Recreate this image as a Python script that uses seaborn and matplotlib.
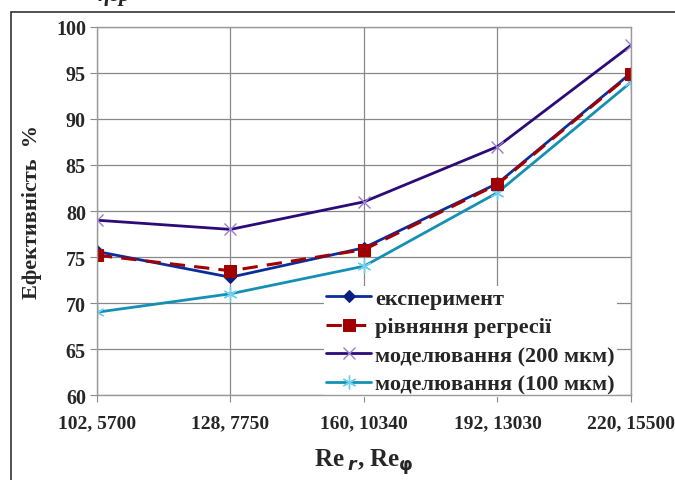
import pandas as pd
import matplotlib.pyplot as plt
import matplotlib.patches as patches
import seaborn as sns

# Data
categories = ["102, 5700", "128, 7750", "160, 10340", "192, 13030", "220, 15500"]
experiment = [75.6, 72.8, 76.0, 83.0, 95.0]
regression = [75.2, 73.5, 75.8, 82.9, 94.9]
model_200 = [79.0, 78.0, 81.0, 87.0, 98.0]
model_100 = [69.0, 71.0, 74.0, 82.0, 94.0]

sns.set_style("white")
plt.rcParams["font.family"] = ["Liberation Serif", "DejaVu Serif"]
plt.rcParams["font.weight"] = "bold"

df = pd.DataFrame({
    "pos": range(len(categories)),
    "exp": experiment,
    "reg": regression,
    "m200": model_200,
    "m100": model_100,
})

fig = plt.figure(figsize=(6.75, 4.81), dpi=100)
ax = fig.add_axes([0.1437, 0.1767, 0.7911, 0.7651])

sns.lineplot(data=df, x="pos", y="m200", ax=ax, color="#2c0a78", lw=2.0,
             marker="x", markersize=9, markeredgecolor="#9a7fd0", markeredgewidth=1.0,
             label="моделювання (200 мкм)", zorder=3)
sns.lineplot(data=df, x="pos", y="m100", ax=ax, color="#1590b5", lw=2.0,
             marker=(6, 2, 0), markersize=10, markeredgecolor="#70d0f0", markeredgewidth=1.0,
             label="моделювання (100 мкм)", zorder=3)
sns.lineplot(data=df, x="pos", y="exp", ax=ax, color="#0a2d9c", lw=2.0,
             marker="D", markersize=6, markeredgecolor="#0a2080", markerfacecolor="#0a2080",
             label="експеримент", zorder=4)
sns.lineplot(data=df, x="pos", y="reg", ax=ax, color="#a00000", lw=2.2,
             marker="s", markersize=9, markeredgecolor="#a00000", markerfacecolor="#a00000",
             label="рівняння регресії", zorder=5)
ax.lines[-1].set_dashes([5, 3])

ax.set_xlim(0, 4)
ax.set_ylim(60, 100)
ax.set_xticks(df["pos"])
ax.set_xticklabels(categories, fontsize=14, fontweight="bold")
ax.set_yticks(range(60, 101, 5))
ax.set_yticklabels([str(v) for v in range(60, 101, 5)], fontsize=14.5, fontweight="bold")
ax.tick_params(axis="both", direction="out", length=5, width=0.8, color="#888888",
               left=True, bottom=True, pad=3)
ax.tick_params(axis="x", pad=9)

ax.grid(True, color="#888888", lw=0.9)
for s in ax.spines.values():
    s.set_color("#999999")
    s.set_linewidth(1.0)
    s.set_zorder(6)

ax.set_xlabel(r"Re$\,_{\mathbf{\mathit{r}}}$, Re$_{\mathbf{\varphi}}$", fontsize=18,
              fontweight="bold", labelpad=11)
ax.set_ylabel("Ефективність  %", fontsize=16, fontweight="bold", labelpad=10)

handles, labels = ax.get_legend_handles_labels()
order = [2, 3, 0, 1]
leg = ax.legend([handles[i] for i in order], [labels[i] for i in order],
                loc="lower right", bbox_to_anchor=(0.995, -0.035), frameon=True,
                fancybox=False, framealpha=1, edgecolor="none", facecolor="white",
                prop={"family": "Liberation Serif", "weight": "bold", "size": 16},
                handlelength=2.0, handletextpad=0.2, labelspacing=0.36, borderpad=0.1)

# outer frame of the original figure
fig.patches.append(patches.Rectangle((11 / 675, -0.2), 1.2, 1.2 - 13 / 481,
                                     transform=fig.transFigure, fill=False,
                                     edgecolor="#333333", lw=1.2))
fig.text(0.145, 0.998, "ηср", style="italic", fontsize=16, va="baseline")

fig.savefig("out.png", dpi=100)
